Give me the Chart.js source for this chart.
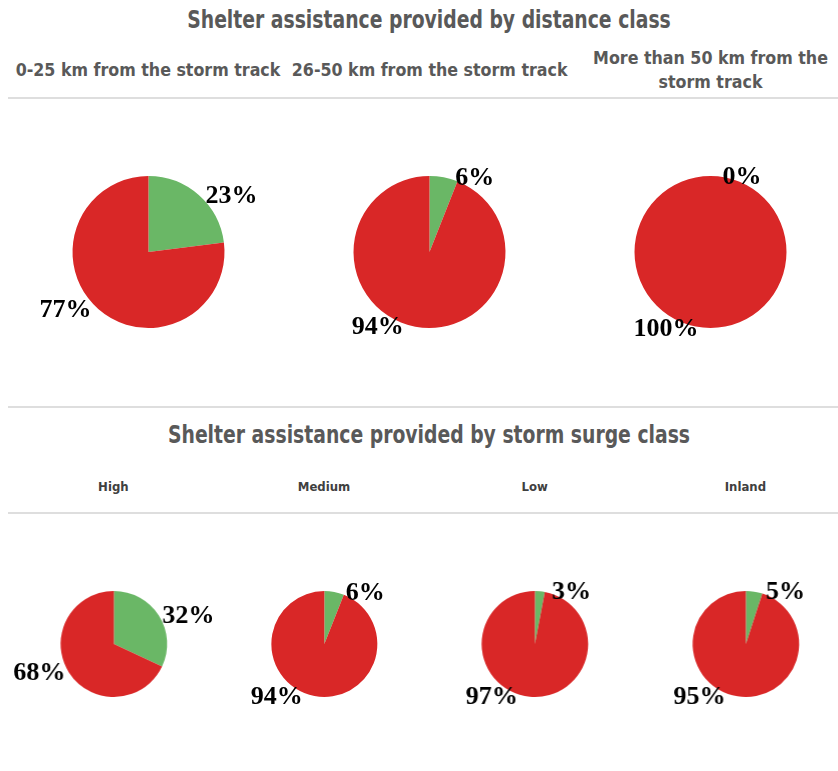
<!DOCTYPE html>
<html>
<head>
<meta charset="utf-8">
<script src="https://cdn.jsdelivr.net/npm/chart.js@4/dist/chart.umd.min.js"></script>
<style>
    html, body {
        margin: 0;
        padding: 0;
        background: #fff;
    }

    body {
        width: 838px;
        height: 771px;
        position: relative;
        overflow: hidden;
        font-family: "DejaVu Sans Condensed", "Liberation Sans Narrow", sans-serif;
        color: #595959;
    }

    .title {
        position: absolute;
        left: 0;
        width: 858px;
        text-align: center;
        font-size: 24px;
        font-weight: bold;
        transform: scaleX(0.87);
    }

    .rule {
        position: absolute;
        left: 8px;
        right: 0;
        height: 2px;
        background: #dedede;
    }

    .row {
        position: absolute;
        left: 8px;
        display: flex;
    }

    .head {
        display: flex;
        align-items: center;
        justify-content: center;
        text-align: center;
        flex-shrink: 0;
    }

    .head span {
        display: inline-block;
        flex-shrink: 0;
    }

    .dist-head {
        width: 281px;
        height: 50px;
        font-size: 18px;
        font-weight: bold;
        line-height: 24px;
    }

    .dist-head span {
        max-width: 285px;
        transform: scaleX(0.98);
    }

    .surge-head {
        width: 210.7px;
        height: 20px;
        font-size: 13px;
        font-weight: bold;
        color: #404040;
    }

    .pie-dist {
        width: 281px;
        height: 284px;
        position: relative;
    }

    .pie-surge {
        width: 210.7px;
        height: 238px;
        position: relative;
    }
</style>
</head>
<body>
<div class="title" style="top: 6px;">Shelter assistance provided by distance class</div>
<div class="row" id="dist-heads" style="top: 45px;"></div>
<div class="rule" style="top: 97px;"></div>
<div class="row" id="dist-pies" style="top: 110px;"></div>

<div class="rule" style="top: 406px;"></div>
<div class="title" style="top: 421px;">Shelter assistance provided by storm surge class</div>
<div class="row" id="surge-heads" style="top: 476px;"></div>
<div class="rule" style="top: 512px;"></div>
<div class="row" id="surge-pies" style="top: 525px;"></div>

<script>
const distanceClasses = ['0-25 km from the storm track', '26-50 km from the storm track', 'More than 50 km from the storm track'];
const distanceProvided = [23, 6, 0];
const distanceNotProvided = [77, 94, 100];

const surgeClasses = ['High', 'Medium', 'Low', 'Inland'];
const surgeProvided = [32, 6, 3, 5];
const surgeNotProvided = [68, 94, 97, 95];

const sliceLabels = ['Provided', 'Not provided'];
const sliceColors = ['#6ab766', '#d92727'];

// percent labels sit just outside the rim, pushed to the side the slice faces
const outsideLabels = {
    id: 'outsideLabels',
    afterDatasetsDraw(chart) {
        const ctx = chart.ctx;
        const meta = chart.getDatasetMeta(0);
        const values = chart.data.datasets[0].data;

        ctx.save();
        ctx.font = 'bold 26px "Liberation Serif", serif';
        ctx.fillStyle = '#000';
        ctx.textBaseline = 'middle';

        meta.data.forEach((arc, i) => {
            const mid = (arc.startAngle + arc.endAngle) / 2;
            const px = arc.x + Math.cos(mid) * arc.outerRadius;
            const py = arc.y + Math.sin(mid) * arc.outerRadius;

            let right = Math.cos(mid) > 0;
            if (Math.abs(Math.cos(mid)) < 1e-6) {
                right = Math.sin(mid) < 0;
            }
            const pad = 12 * Math.sin(mid) * Math.sin(mid);

            ctx.textAlign = right ? 'left' : 'right';
            ctx.fillText(`${values[i]}%`, right ? px + pad : px - pad, py + 1);
        });

        ctx.restore();
    }
};

function addHeads(containerId, names, cls) {
    const row = document.getElementById(containerId);
    names.forEach(name => {
        const cell = document.createElement('div');
        cell.className = `head ${cls}`;
        const span = document.createElement('span');
        span.textContent = name;
        cell.appendChild(span);
        row.appendChild(cell);
    });
}

function addPies(containerId, provided, notProvided, cls, radius) {
    const row = document.getElementById(containerId);

    provided.forEach((value, i) => {
        const wrap = document.createElement('div');
        wrap.className = cls;
        const canvas = document.createElement('canvas');
        wrap.appendChild(canvas);
        row.appendChild(wrap);

        new Chart(canvas, {
            type: 'pie',
            data: {
                labels: sliceLabels,
                datasets: [{
                    data: [value, notProvided[i]],
                    backgroundColor: sliceColors,
                    borderWidth: 0
                }]
            },
            options: {
                responsive: true,
                maintainAspectRatio: false,
                animation: false,
                radius: radius,
                layout: { padding: 0 },
                plugins: {
                    legend: { display: false },
                    tooltip: { enabled: false }
                }
            },
            plugins: [outsideLabels]
        });
    });
}

addHeads('dist-heads', distanceClasses, 'dist-head');
addHeads('surge-heads', surgeClasses, 'surge-head');
addPies('dist-pies', distanceProvided, distanceNotProvided, 'pie-dist', 76);
addPies('surge-pies', surgeProvided, surgeNotProvided, 'pie-surge', 53);
</script>
</body>
</html>
